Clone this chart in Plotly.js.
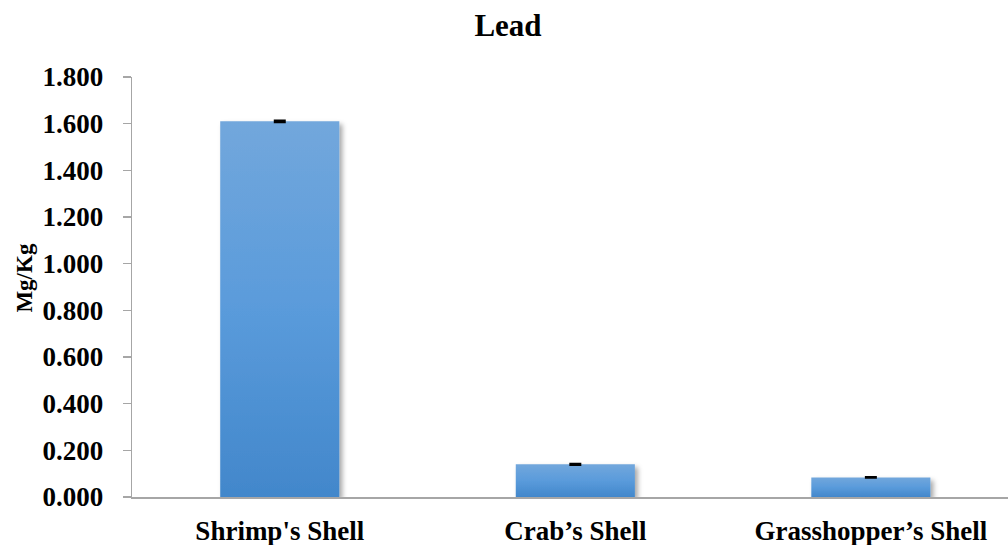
<!DOCTYPE html>
<html>
<head>
<meta charset="utf-8">
<script src="https://cdn.plot.ly/plotly-3.0.1.min.js"></script>
<style>
  html, body { margin: 0; padding: 0; background: #ffffff; }
  #chart { width: 1008px; height: 545px; }
</style>
</head>
<body>
<div id="chart"></div>
<script>
// Lead content of each shell sample (Mg/Kg) with its error
const categories = ["Shrimp's Shell", "Crab\u2019s Shell", "Grasshopper\u2019s Shell"];
const leadValues = [1.610, 0.140, 0.084];
const leadErrors = [0.004, 0.003, 0.002];
const yTickValues = [0, 0.2, 0.4, 0.6, 0.8, 1.0, 1.2, 1.4, 1.6, 1.8];
const yAxisLabel = 'Mg/Kg';

const serifBold = { family: 'Liberation Serif, "Times New Roman", serif', weight: 700, color: '#000000' };

const trace = {
  type: 'bar',
  x: categories,
  y: leadValues,
  marker: { color: '#5b9bd5', line: { width: 0 } },
  error_y: {
    type: 'data',
    array: leadErrors,
    visible: true,
    color: '#000000',
    thickness: 2,
    width: 6
  },
  hoverinfo: 'x+y'
};

const layout = {
  width: 1008,
  height: 545,
  margin: { l: 132, r: 0, t: 77, b: 48 },
  paper_bgcolor: '#ffffff',
  plot_bgcolor: '#ffffff',
  showlegend: false,
  bargap: 0.597,
  title: {
    text: 'Lead',
    font: Object.assign({}, serifBold, { size: 31 }),
    xref: 'container', x: 0.504, xanchor: 'center',
    yref: 'container', y: 0.954, yanchor: 'middle'
  },
  xaxis: {
    type: 'category',
    range: [-0.5, 2.464],
    showline: true,
    linecolor: '#a6a6a6',
    linewidth: 2,
    ticks: '',
    ticklabelstandoff: 9,
    tickfont: Object.assign({}, serifBold, { size: 27 }),
    showgrid: false,
    zeroline: false
  },
  yaxis: {
    range: [0, 1.8],
    tickvals: yTickValues,
    tickformat: '.3f',
    showline: true,
    linecolor: '#a6a6a6',
    linewidth: 1.3,
    ticks: 'outside',
    ticklen: 8,
    tickcolor: '#a6a6a6',
    tickwidth: 1.3,
    ticklabelstandoff: 14,
    tickfont: Object.assign({}, serifBold, { size: 27 }),
    showgrid: false,
    zeroline: false
  },
  // rotated y-axis label, set slightly above the middle of the axis
  annotations: [{
    text: yAxisLabel,
    textangle: -90,
    showarrow: false,
    xref: 'paper', x: 0, xshift: -107, xanchor: 'center',
    yref: 'paper', y: 0.52, yanchor: 'middle',
    font: Object.assign({}, serifBold, { size: 23 })
  }]
};

Plotly.newPlot('chart', [trace], layout, { displayModeBar: false, staticPlot: true }).then(function (gd) {
  // Vertical gradient fill and soft drop shadow for the bars
  const svgNS = 'http://www.w3.org/2000/svg';
  const svg = gd.querySelector('svg.main-svg');
  let defs = svg.querySelector('defs');
  if (!defs) { defs = document.createElementNS(svgNS, 'defs'); svg.insertBefore(defs, svg.firstChild); }

  const grad = document.createElementNS(svgNS, 'linearGradient');
  grad.setAttribute('id', 'leadBarFill');
  grad.setAttribute('x1', '0'); grad.setAttribute('y1', '0');
  grad.setAttribute('x2', '0'); grad.setAttribute('y2', '1');
  [['0', '#72a7dc'], ['0.5', '#5a9bdb'], ['1', '#4287cb']].forEach(function (s) {
    const stop = document.createElementNS(svgNS, 'stop');
    stop.setAttribute('offset', s[0]);
    stop.setAttribute('stop-color', s[1]);
    grad.appendChild(stop);
  });
  defs.appendChild(grad);

  const filt = document.createElementNS(svgNS, 'filter');
  filt.setAttribute('id', 'leadBarShadow');
  filt.setAttribute('x', '-20%'); filt.setAttribute('y', '-20%');
  filt.setAttribute('width', '140%'); filt.setAttribute('height', '140%');
  const shadow = document.createElementNS(svgNS, 'feDropShadow');
  shadow.setAttribute('dx', '3'); shadow.setAttribute('dy', '3');
  shadow.setAttribute('stdDeviation', '2.5');
  shadow.setAttribute('flood-color', '#000000');
  shadow.setAttribute('flood-opacity', '0.35');
  filt.appendChild(shadow);
  defs.appendChild(filt);

  gd.querySelectorAll('.trace.bars .point path').forEach(function (p) {
    p.style.fill = 'url(#leadBarFill)';
    p.setAttribute('filter', 'url(#leadBarShadow)');
  });
});
</script>
</body>
</html>
